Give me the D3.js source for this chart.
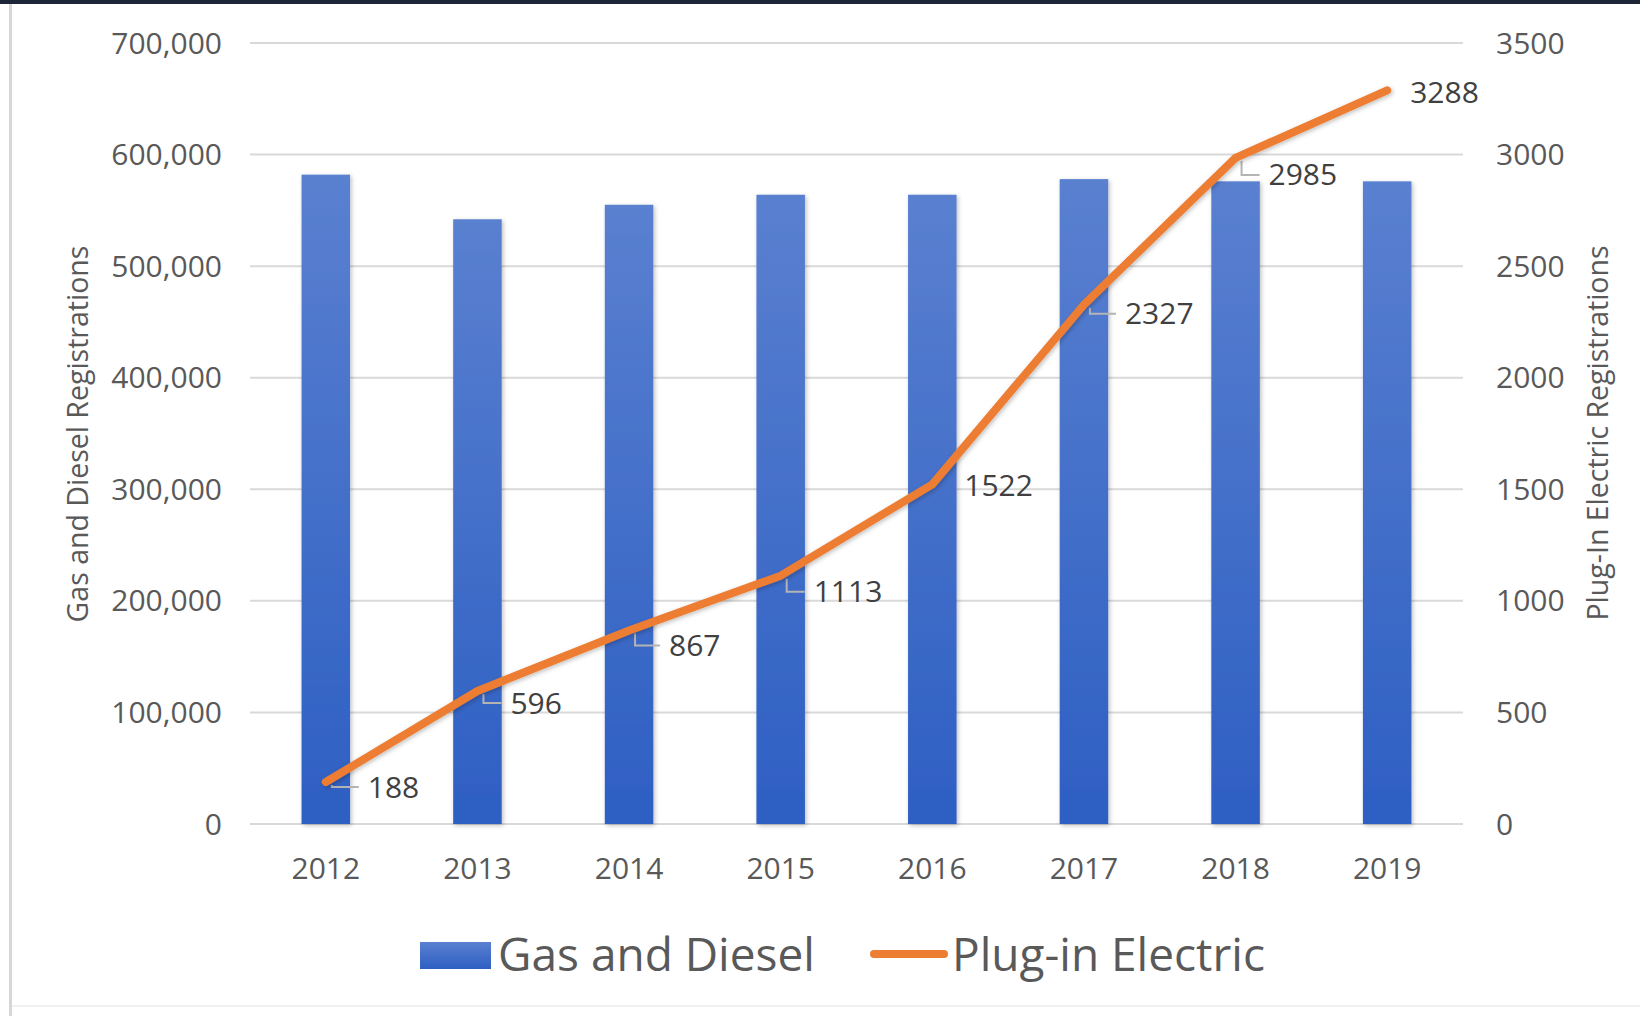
<!DOCTYPE html>
<html lang="en">
<head>
<meta charset="UTF-8">
<title>Gas and Diesel vs Plug-in Electric Registrations</title>
<script src="https://d3js.org/d3.v7.min.js"></script>
<style>
  html, body { margin: 0; padding: 0; background: #fff; }
  svg { display: block; font-family: "Open Sans", "Noto Sans", sans-serif; }
  .tick-label { fill: #595959; font-size: 30px; }
  .axis-title { fill: #595959; font-size: 28.5px; }
  .data-label { fill: #404040; font-size: 30px; }
  .legend-label { fill: #595959; font-size: 46px; }
</style>
</head>
<body>
<div id="chart"></div>
<script>
// data
const years = ["2012", "2013", "2014", "2015", "2016", "2017", "2018", "2019"];
const gasDiesel = [582000, 542000, 555000, 564000, 564000, 578000, 576000, 576000];
const plugIn = [188, 596, 867, 1113, 1522, 2327, 2985, 3288];
const leftTicks = [0, 100000, 200000, 300000, 400000, 500000, 600000, 700000];
const rightTicks = [0, 500, 1000, 1500, 2000, 2500, 3000, 3500];

// hand placed label offsets (like the manually moved Excel labels)
const labelNudge = [[42, 5], [33, 12], [40, 15], [33, 16], [32, 1], [41, 9], [33, 17], [23, 2]];

const width = 1640, height = 1016;
const plot = { left: 250, right: 1463, top: 43, bottom: 824 };

const svg = d3.select("#chart").append("svg")
    .attr("width", width)
    .attr("height", height);

const defs = svg.append("defs");
const grad = defs.append("linearGradient")
    .attr("id", "barGrad")
    .attr("x1", 0).attr("y1", 0).attr("x2", 0).attr("y2", 1);
grad.append("stop").attr("offset", "0%").attr("stop-color", "#5a80d0");
grad.append("stop").attr("offset", "100%").attr("stop-color", "#2d5fc3");

const shadow = defs.append("filter").attr("id", "shadow")
    .attr("x", "-20%").attr("y", "-20%").attr("width", "140%").attr("height", "140%");
shadow.append("feDropShadow")
    .attr("dx", 1.5).attr("dy", 1.5).attr("stdDeviation", 2)
    .attr("flood-color", "#000").attr("flood-opacity", 0.25);

// frame bits of the screenshot
svg.append("rect").attr("x", 0).attr("y", 0).attr("width", width).attr("height", 4).attr("fill", "#1d2636");
svg.append("rect").attr("x", 9).attr("y", 4).attr("width", 3).attr("height", height - 4).attr("fill", "#d6d6d6");
svg.append("rect").attr("x", 12).attr("y", 1005).attr("width", width - 12).attr("height", 2).attr("fill", "#f1f1f1");

// scales
const x = d3.scaleBand()
    .domain(years)
    .range([plot.left, plot.right])
    .paddingInner(0.68)
    .paddingOuter(0.34);

const yLeft = d3.scaleLinear()
    .domain([0, 700000])
    .range([plot.bottom, plot.top]);

const yRight = d3.scaleLinear()
    .domain([0, 3500])
    .range([plot.bottom, plot.top]);

// gridlines
svg.append("g")
    .selectAll("line")
    .data(leftTicks)
    .join("line")
    .attr("x1", plot.left)
    .attr("x2", plot.right)
    .attr("y1", d => yLeft(d))
    .attr("y2", d => yLeft(d))
    .attr("stroke", "#d9d9d9")
    .attr("stroke-width", 2);

// left axis labels
svg.append("g")
    .selectAll("text")
    .data(leftTicks)
    .join("text")
    .attr("class", "tick-label")
    .attr("x", 222)
    .attr("y", d => yLeft(d))
    .attr("dy", "0.35em")
    .attr("text-anchor", "end")
    .text(d => d3.format(",")(d));

// right axis labels
svg.append("g")
    .selectAll("text")
    .data(rightTicks)
    .join("text")
    .attr("class", "tick-label")
    .attr("x", 1496)
    .attr("y", d => yRight(d))
    .attr("dy", "0.35em")
    .attr("text-anchor", "start")
    .text(d => d);

// x axis labels
svg.append("g")
    .selectAll("text")
    .data(years)
    .join("text")
    .attr("class", "tick-label")
    .attr("x", d => x(d) + x.bandwidth() / 2)
    .attr("y", 868)
    .attr("dy", "0.35em")
    .attr("text-anchor", "middle")
    .text(d => d);

// axis titles
svg.append("text")
    .attr("class", "axis-title")
    .attr("transform", "translate(78,434) rotate(-90)")
    .attr("text-anchor", "middle")
    .attr("dy", "0.35em")
    .text("Gas and Diesel Registrations");

svg.append("text")
    .attr("class", "axis-title")
    .attr("transform", "translate(1598,433) rotate(-90)")
    .attr("text-anchor", "middle")
    .attr("dy", "0.35em")
    .text("Plug-In Electric Registrations");

// bars
svg.append("g")
    .selectAll("rect")
    .data(years)
    .join("rect")
    .attr("x", d => x(d))
    .attr("y", (d, i) => yLeft(gasDiesel[i]))
    .attr("width", x.bandwidth())
    .attr("height", (d, i) => yLeft(0) - yLeft(gasDiesel[i]))
    .attr("fill", "url(#barGrad)")
    .attr("filter", "url(#shadow)");

// line points
const pts = years.map((d, i) => ({
    px: x(d) + x.bandwidth() / 2,
    py: yRight(plugIn[i]),
    v: plugIn[i],
    dx: labelNudge[i][0],
    dy: labelNudge[i][1]
}));

// leader lines
svg.append("g")
    .selectAll("polyline")
    .data(pts.filter(p => p.dy > 3))
    .join("polyline")
    .attr("points", p => [
        [p.px + 6, p.py + 3],
        [p.px + 6, p.py + p.dy],
        [p.px + p.dx - 9, p.py + p.dy]
    ].join(" "))
    .attr("fill", "none")
    .attr("stroke", "#b4b4b4")
    .attr("stroke-width", 2);

const line = d3.line()
    .x(p => p.px)
    .y(p => p.py);

svg.append("path")
    .datum(pts)
    .attr("d", line)
    .attr("fill", "none")
    .attr("stroke", "#ed7d31")
    .attr("stroke-width", 8)
    .attr("stroke-linejoin", "round")
    .attr("stroke-linecap", "round")
    .attr("filter", "url(#shadow)");

// data labels
svg.append("g")
    .selectAll("text")
    .data(pts)
    .join("text")
    .attr("class", "data-label")
    .attr("x", p => p.px + p.dx)
    .attr("y", p => p.py + p.dy)
    .attr("dy", "0.35em")
    .text(p => p.v);

// legend
const legend = svg.append("g");
legend.append("rect")
    .attr("x", 420).attr("y", 942)
    .attr("width", 71).attr("height", 27)
    .attr("fill", "url(#barGrad)");
legend.append("text")
    .attr("class", "legend-label")
    .attr("x", 498).attr("y", 955)
    .attr("dy", "0.35em")
    .text("Gas and Diesel");
legend.append("line")
    .attr("x1", 874).attr("x2", 944)
    .attr("y1", 954).attr("y2", 954)
    .attr("stroke", "#ed7d31")
    .attr("stroke-width", 8)
    .attr("stroke-linecap", "round");
legend.append("text")
    .attr("class", "legend-label")
    .attr("x", 952).attr("y", 955)
    .attr("dy", "0.35em")
    .text("Plug-in Electric");
</script>
</body>
</html>
